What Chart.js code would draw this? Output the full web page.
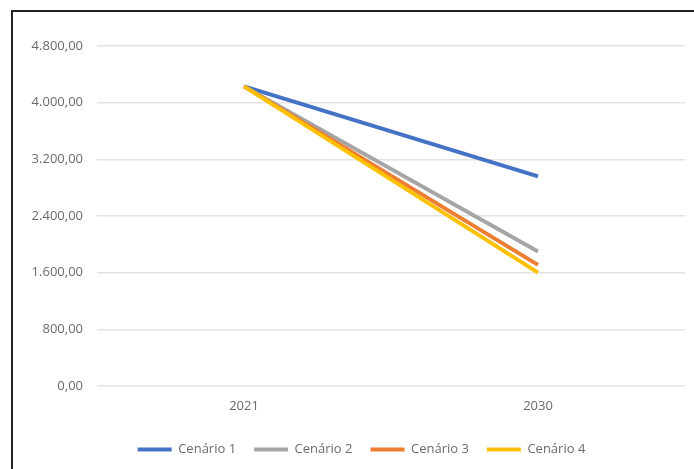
<!DOCTYPE html>
<html lang="pt-BR">
<head>
<meta charset="utf-8">
<title>Cenários 2021-2030</title>
<script src="https://cdn.jsdelivr.net/npm/chart.js@4"></script>
<style>
  html, body { margin: 0; padding: 0; background: #fff; overflow: hidden; }
  .moldura {
    position: absolute; left: 11px; top: 10px;
    width: 720px; height: 500px;
    border: 2px solid #222;
  }
  .grafico { position: absolute; left: 0; top: 0; width: 694px; height: 469px; }
</style>
</head>
<body>
<div class="moldura"></div>
<div class="grafico"><canvas id="cenariosChart"></canvas></div>
<script>
// Anos e valores de cada cenário
const anos = ['2021', '2030'];
const cenario1 = [4230, 2960];
const cenario2 = [4230, 1900];
const cenario3 = [4230, 1710];
const cenario4 = [4230, 1600];

// Cores
const azul = '#4472C4';
const cinza = '#A5A5A5';
const laranja = '#ED7D31';
const amarelo = '#FFC000';
const texto = '#6b6b6b';

const fmt = new Intl.NumberFormat('pt-BR', { minimumFractionDigits: 2, maximumFractionDigits: 2 });

function serie(label, data, cor, ordem) {
  return {
    label,
    data,
    borderColor: cor,
    backgroundColor: cor,
    borderWidth: 4,
    pointRadius: 0,
    tension: 0,
    order: ordem
  };
}

Chart.defaults.font.family = '"Open Sans", sans-serif';
Chart.defaults.font.size = 13;
Chart.defaults.color = texto;

const legendaPadrao = Chart.defaults.plugins.legend.labels.generateLabels;

// Legenda centrada sob a área de plotagem, não sob o canvas inteiro
const deslocaLegenda = {
  id: 'deslocaLegenda',
  afterLayout(chart) {
    chart.legend.left += 19;
    chart.legend.right += 19;
  }
};

new Chart(document.getElementById('cenariosChart'), {
  type: 'line',
  data: {
    labels: anos,
    datasets: [
      serie('Cenário 1', cenario1, azul, 4),
      serie('Cenário 2', cenario2, cinza, 3),
      serie('Cenário 3', cenario3, laranja, 2),
      serie('Cenário 4', cenario4, amarelo, 1)
    ]
  },
  options: {
    responsive: true,
    maintainAspectRatio: false,
    animation: false,
    layout: { padding: { left: 0, right: 9, top: 46, bottom: 3 } },
    scales: {
      x: {
        offset: true,
        grid: { display: false, drawTicks: false },
        border: { display: false },
        ticks: { padding: 12 },
        afterFit: s => { s.height = 39; }
      },
      y: {
        min: 0,
        max: 4800,
        ticks: { stepSize: 800, padding: 14, callback: v => fmt.format(v) },
        grid: { color: '#e3e3e3', lineWidth: 1.5, drawTicks: false },
        border: { display: false },
        afterFit: s => { s.width = 97; }
      }
    },
    plugins: {
      legend: {
        position: 'bottom',
        labels: {
          boxWidth: 34,
          boxHeight: 4,
          padding: 18,
          sort: (a, b) => a.datasetIndex - b.datasetIndex,
          generateLabels: chart => legendaPadrao(chart).map(l => ({ ...l, lineWidth: 0 }))
        }
      },
      tooltip: { enabled: false }
    }
  },
  plugins: [deslocaLegenda]
});
</script>
</body>
</html>
